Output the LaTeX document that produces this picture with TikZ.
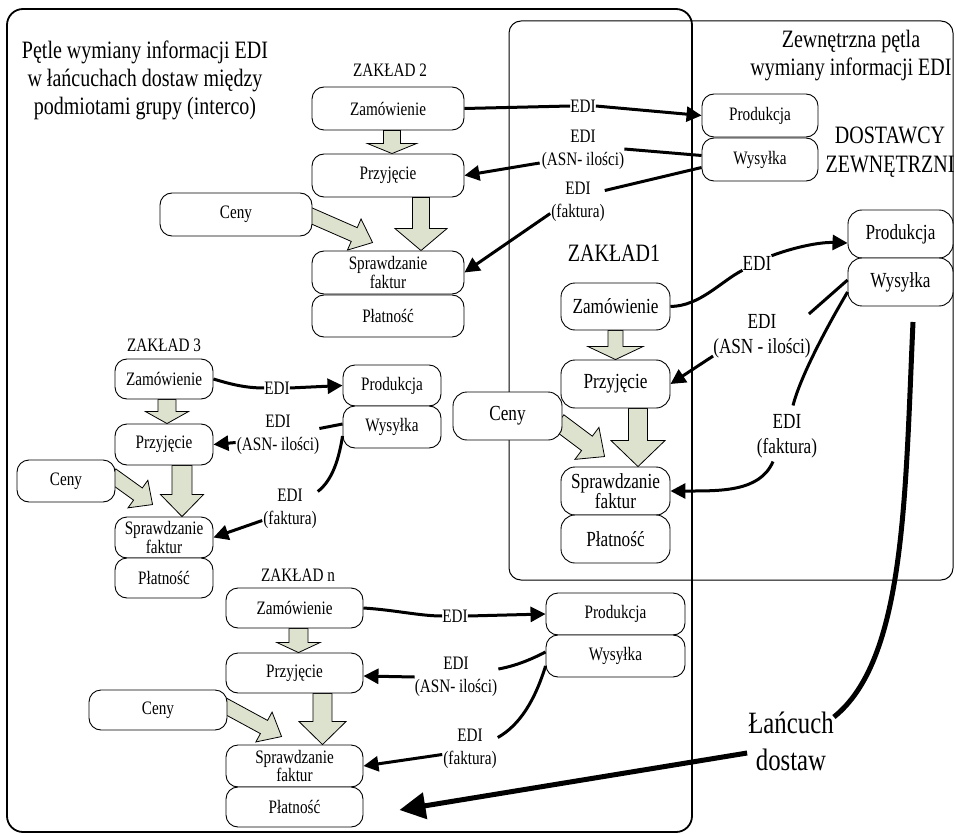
\documentclass[tikz,border=0pt]{standalone}
\usepackage{fontspec}
\setmainfont{Liberation Serif}[FakeStretch=0.8]
\usetikzlibrary{arrows.meta,calc}
\pgfdeclarelayer{bg}
\pgfsetlayers{bg,main}
\definecolor{arrowfill}{RGB}{221,226,207}
\newcommand\fs[2]{\fontsize{#1}{#2}\selectfont}
\newcommand\blkarrow[5]{%
  \coordinate (ba1) at #1;
  \coordinate (ba2) at #2;
  \coordinate (bah) at ($(ba2)!#5pt!(ba1)$);
  \filldraw[blk] ($(ba1)!#3pt!90:(ba2)$) -- ($(bah)!#3pt!-90:(ba1)$) -- ($(bah)!#4pt!-90:(ba1)$) -- (ba2) -- ($(bah)!#4pt!90:(ba1)$) -- ($(bah)!#3pt!90:(ba1)$) -- ($(ba1)!#3pt!-90:(ba2)$) -- cycle;
}
\begin{document}
\begin{tikzpicture}[x=1pt,y=-1pt,
  box/.style={draw,line width=0.9pt,fill=white,rounded corners=12pt,align=center,inner sep=0pt,font=\fs{19}{17}},
  bbox/.style={box,rounded corners=14pt,font=\fs{21.5}{18}},
  lbl/.style={inner sep=0pt,align=center,font=\fs{19}{23}},
  blbl/.style={inner sep=0pt,align=center,font=\fs{21.5}{25}},
  big/.style={inner sep=0pt,align=center,font=\fs{25}{28}},
  edi/.style={line width=3pt},
  ea/.style={edi,-{Triangle[length=15pt,width=15pt]}},
  blk/.style={draw,fill=arrowfill,line width=0.8pt,line join=miter},
  chain/.style={line width=5pt},
]
\useasboundingbox (0,0) rectangle (955,834);
\clip (0,0) rectangle (955,834);

% ---------- texts
\node[big] (title) at (145,80) {Pętle wymiany informacji EDI\\w łańcuchach dostaw między\\podmiotami grupy (interco)};
\node[big] (exttitle) at (851,56) {Zewnętrzna pętla\\wymiany informacji EDI};
\node[big,font=\fs{25}{29}] (dost) at (890,152) {DOSTAWCY\\ZEWNĘTRZNI};
\node[big] (z1t) at (614,253) {ZAKŁAD1};
\node[lbl] (z2t) at (390,70) {ZAKŁAD 2};
\node[lbl] (z3t) at (164,345) {ZAKŁAD 3};
\node[lbl] (znt) at (298,575) {ZAKŁAD n};
\node[inner sep=0pt,align=center,font=\fs{31}{37}] (lancuch) at (791,741) {Łańcuch\\dostaw};

% ---------- ZAKLAD 2
\node[box,minimum width=152,minimum height=43] (z2zam) at (388,108.5) {Zamówienie};
\node[box,minimum width=152,minimum height=43] (z2prz) at (388,175.5) {Przyjęcie};
\node[box,minimum width=152,minimum height=43] (z2spr) at (388,272.5) {Sprawdzanie\\faktur};
\node[box,minimum width=152,minimum height=42] (z2pla) at (388,316) {Płatność};
\node[box,minimum width=152,minimum height=43] (z2ceny) at (236,214.5) {Ceny};
\node[box,minimum width=116,minimum height=43] (z2prod) at (760,115.5) {Produkcja};
\node[box,minimum width=116,minimum height=43] (z2wys) at (760,159.5) {Wysyłka};

% ---------- ZAKLAD 1
\node[bbox,minimum width=109,minimum height=47] (z1zam) at (615.5,306.5) {Zamówienie};
\node[bbox,minimum width=109,minimum height=48] (z1prz) at (615.5,384) {Przyjęcie};
\node[bbox,minimum width=109,minimum height=48] (z1spr) at (615.5,491) {Sprawdzanie\\faktur};
\node[bbox,minimum width=109,minimum height=48] (z1pla) at (615.5,539) {Płatność};
\node[bbox,minimum width=109,minimum height=48] (z1ceny) at (507.5,416) {Ceny};
\node[bbox,minimum width=105,minimum height=48] (z1prod) at (900.5,234) {Produkcja};
\node[bbox,minimum width=105,minimum height=48] (z1wys) at (900.5,282) {Wysyłka};

% ---------- ZAKLAD 3
\node[box,minimum width=98,minimum height=40] (z3zam) at (164,379) {Zamówienie};
\node[box,minimum width=98,minimum height=41] (z3prz) at (164,444.5) {Przyjęcie};
\node[box,minimum width=98,minimum height=41] (z3spr) at (164,537.5) {Sprawdzanie\\faktur};
\node[box,minimum width=98,minimum height=40] (z3pla) at (164,578) {Płatność};
\node[box,minimum width=98,minimum height=42] (z3ceny) at (66,481) {Ceny};
\node[box,minimum width=98,minimum height=41] (z3prod) at (392,385.5) {Produkcja};
\node[box,minimum width=98,minimum height=42] (z3wys) at (392,427) {Wysyłka};

% ---------- ZAKLAD n
\node[box,minimum width=137,minimum height=40] (znzam) at (294.5,608) {Zamówienie};
\node[box,minimum width=137,minimum height=40] (znprz) at (294.5,673) {Przyjęcie};
\node[box,minimum width=137,minimum height=42] (znspr) at (294.5,766) {Sprawdzanie\\faktur};
\node[box,minimum width=137,minimum height=40] (znpla) at (294.5,807) {Płatność};
\node[box,minimum width=138,minimum height=40] (znceny) at (158,710) {Ceny};
\node[box,minimum width=139,minimum height=42] (znprod) at (615.5,614) {Produkcja};
\node[box,minimum width=139,minimum height=42] (znwys) at (615.5,656) {Wysyłka};

% ---------- frames and block arrows (background)
\begin{pgfonlayer}{bg}
\draw[line width=1.8pt,rounded corners=16pt] (7,9) rectangle (692,832);
\draw[line width=1pt,rounded corners=12pt] (509,21) rectangle (953,580);
\blkarrow{($(z2zam.south)+(4,0)$)}{($(z2prz.north)+(4,0)$)}{8.5}{24.5}{10}
\blkarrow{($(z2prz.south)+(33,0)$)}{($(z2spr.north)+(33,0)$)}{8.5}{26}{22}
\blkarrow{($(z2ceny.east)+(-4,0)$)}{($(z2spr.north west)+(61,-8)$)}{7.5}{17}{20}
\blkarrow{(z1zam.south)}{(z1prz.north)}{7.5}{27.5}{13}
\blkarrow{($(z1prz.south)+(22.5,0)$)}{($(z1spr.north)+(22.5,0)$)}{9.5}{27}{26}
\blkarrow{($(z1ceny.east)+(-4,6)$)}{($(z1spr.north west)+(44,-10)$)}{9}{20}{22}
\blkarrow{($(z3zam.south)+(3,0)$)}{($(z3prz.north)+(3,0)$)}{9}{21.5}{12}
\blkarrow{($(z3prz.south)+(18,0)$)}{($(z3spr.north)+(18,0)$)}{10}{21.5}{22}
\blkarrow{($(z3ceny.east)+(-4,-6)$)}{($(z3spr.north west)+(38,-12)$)}{7.5}{17}{18}
\blkarrow{($(znzam.south)+(4,0)$)}{($(znprz.north)+(4,0)$)}{9.5}{21.5}{10}
\blkarrow{($(znprz.south)+(28,0)$)}{($(znspr.north)+(28,0)$)}{9.5}{23.5}{23}
\blkarrow{($(znceny.east)+(-4,-5)$)}{($(znspr.north west)+(56,-8)$)}{7.5}{17}{20}
\end{pgfonlayer}

% ---------- EDI connectors ZAKLAD 2
\node[lbl] (z2e1) at (583,106) {EDI};
\node[lbl] (z2asn) at (583,150) {EDI\\(ASN- ilości)};
\node[lbl] (z2fak) at (578,201.5) {EDI\\(faktura)};
\draw[edi] (z2zam.east) -- (z2e1.west);
\draw[ea] (z2e1.east) -- (z2prod.west);
\draw[edi] ($(z2wys.west)+(0,-4)$) -- ($(z2asn.east)+(0,-1)$);
\draw[ea] ($(z2asn.west)+(-2,13)$) -- (z2prz.east);
\draw[edi] ($(z2wys.west)+(0,8)$) -- ($(z2fak.east)+(0,-11)$);
\draw[ea] ($(z2fak.west)+(-1,12)$) -- (z2spr.east);

% ---------- EDI connectors ZAKLAD 1
\node[blbl] (z1e1) at (757,263) {EDI};
\node[blbl] (z1asn) at (762,336) {EDI\\(ASN - ilości)};
\node[blbl] (z1fak) at (787,436.5) {EDI\\(faktura)};
\draw[edi] (z1zam.east) .. controls (700,306) and (720,282) .. (z1e1.south west);
\draw[ea] (z1e1.north east) .. controls (795,247) and (820,242) .. ($(z1prod.west)+(0,9)$);
\draw[edi] ($(z1wys.west)+(0,-2)$) -- ($(z1asn.north east)+(-2,0)$);
\draw[ea] ($(z1asn.south west)+(0,-2)$) -- (z1prz.east);
\draw[edi] ($(z1wys.west)+(0,10)$) .. controls (825,330) and (800,378) .. ($(z1fak.north)+(6,-9)$);
\draw[ea] ($(z1fak.south)+(-14,3)$) .. controls (760,492) and (720,491) .. (z1spr.east);

% ---------- EDI connectors ZAKLAD 3
\node[lbl] (z3e1) at (277,388) {EDI};
\node[lbl] (z3asn) at (278,434.5) {EDI\\(ASN- ilości)};
\node[lbl] (z3fak) at (290,508.5) {EDI\\(faktura)};
\draw[edi] (z3zam.east) .. controls (230,384) and (245,388) .. (z3e1.west);
\draw[ea] (z3e1.east) -- (z3prod.west);
\draw[edi] ($(z3wys.west)+(0,-3)$) -- ($(z3asn.east)+(0,-6)$);
\draw[ea] ($(z3asn.west)+(-1,8)$) -- (z3prz.east);
\draw[edi] ($(z3wys.west)+(0,9)$) .. controls (338,465) and (330,482) .. ($(z3fak.east)+(1,-17)$);
\draw[ea] ($(z3fak.west)+(-1,12)$) -- (z3spr.east);

% ---------- EDI connectors ZAKLAD n
\node[lbl] (zne1) at (455,616) {EDI};
\node[lbl] (znasn) at (456,677) {EDI\\(ASN- ilości)};
\node[lbl] (znfak) at (470,748.5) {EDI\\(faktura)};
\draw[edi] (znzam.east) .. controls (395,610) and (420,616) .. (zne1.west);
\draw[ea] (zne1.east) -- (znprod.west);
\draw[edi] ($(znwys.west)+(0,-4)$) .. controls (530,660) and (515,666) .. ($(znasn.east)+(1,-8)$);
\draw[ea] (znasn.west) -- ($(znprz.east)+(0,3)$);
\draw[edi] ($(znwys.west)+(0,10)$) .. controls (535,700) and (520,725) .. ($(znfak.east)+(1,-11)$);
\draw[ea] ($(znfak.west)+(-1,6)$) -- (znspr.east);

% ---------- supply chain arrow
\coordinate (chainstart) at (913,322);
\coordinate (chainend) at ($(znpla.east)+(36,3)$);
\draw[chain] (chainstart) .. controls (905,500) and (905,660) .. ($(lancuch.east)+(0,-24)$);
\draw[chain,-{Triangle[length=26pt,width=26pt]}] ($(lancuch.west)+(-1,12)$) -- (chainend);
\end{tikzpicture}
\end{document}
